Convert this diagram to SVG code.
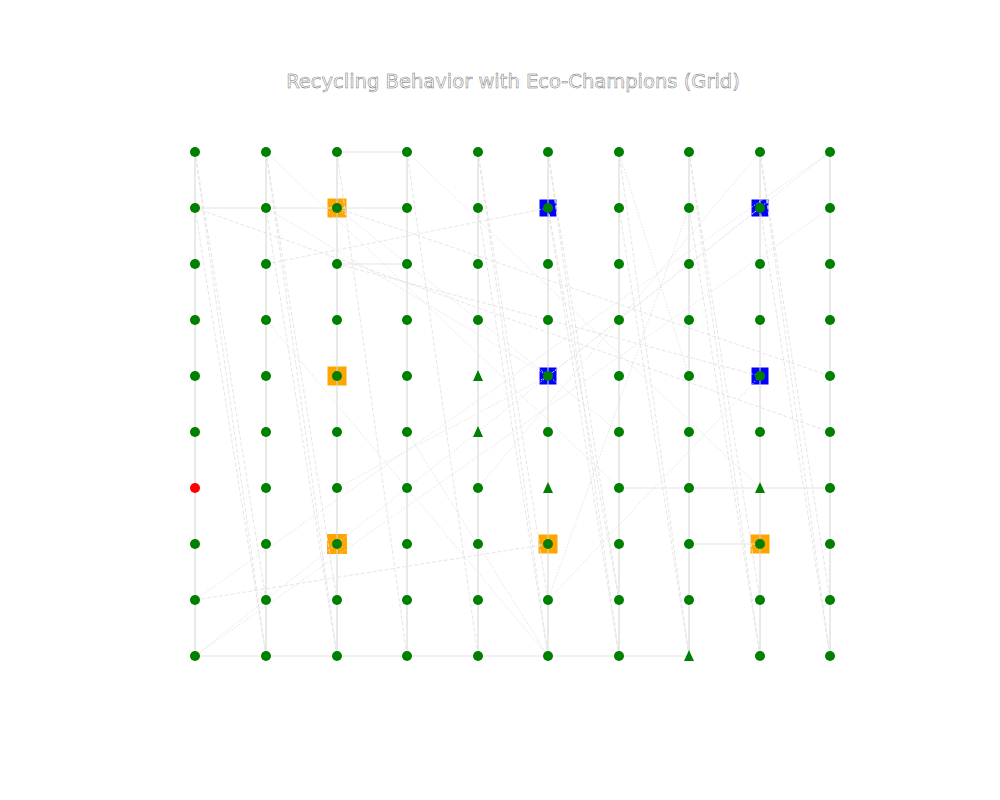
<svg xmlns="http://www.w3.org/2000/svg" width="1000" height="800" viewBox="0 0 1000 800">
<style>
.v{stroke:#d4d4d4;stroke-width:1;fill:none}
.h{stroke:#e4e4e4;stroke-width:1;fill:none}
.d{stroke:#e2e2e2;stroke-width:0.9;stroke-dasharray:4 2;fill:none}
.o{stroke:#e2e2e2;stroke-width:0.9;stroke-dasharray:1.5 1.5;fill:none}
.n{fill:#008000}
.r{fill:#ff0000}
.sq{fill:#ffa500}
.sb{fill:#0000ff}
.t{font-family:"DejaVu Sans",sans-serif;font-size:19.5px;fill:#fff;stroke:#707070;stroke-width:0.5;text-anchor:middle}
</style>
<rect width="1000" height="800" fill="#fff"/>
<text class="t" x="513" y="88">Recycling Behavior with Eco-Champions (Grid)</text>
<g id="highlights">
<rect class="sq" x="327.5" y="198.5" width="19" height="19"/>
<rect class="sq" x="327.5" y="366.5" width="19" height="19"/>
<rect class="sq" x="327" y="534" width="20" height="20"/>
<rect class="sq" x="538.5" y="534.5" width="19" height="19"/>
<rect class="sq" x="750.5" y="534.5" width="19" height="19"/>
<rect class="sb" x="539.5" y="199.5" width="17" height="17"/>
<rect class="sb" x="539.5" y="367.5" width="17" height="17"/>
<rect class="sb" x="751.5" y="199.5" width="17" height="17"/>
<rect class="sb" x="751.5" y="367.5" width="17" height="17"/>
</g>
<g id="connectors">
<line class="v" x1="195" y1="152" x2="195" y2="656"/>
<line class="v" x1="266" y1="152" x2="266" y2="656"/>
<line class="v" x1="337" y1="152" x2="337" y2="656"/>
<line class="v" x1="407" y1="152" x2="407" y2="656"/>
<line class="v" x1="478" y1="152" x2="478" y2="656"/>
<line class="v" x1="548" y1="152" x2="548" y2="656"/>
<line class="v" x1="619" y1="152" x2="619" y2="656"/>
<line class="v" x1="689" y1="152" x2="689" y2="656"/>
<line class="v" x1="760" y1="152" x2="760" y2="656"/>
<line class="v" x1="830" y1="152" x2="830" y2="656"/>
<line class="h" x1="337" y1="152" x2="407" y2="152"/>
<line class="h" x1="195" y1="208" x2="407" y2="208"/>
<line class="h" x1="337" y1="264" x2="407" y2="264"/>
<line class="h" x1="619" y1="488" x2="830" y2="488"/>
<line class="h" x1="689" y1="544" x2="760" y2="544"/>
<line class="h" x1="195" y1="656" x2="689" y2="656"/>
<line class="d" x1="195" y1="152" x2="266" y2="656"/>
<line class="d" x1="195" y1="208" x2="266" y2="656"/>
<line class="d" x1="195" y1="152" x2="266" y2="600"/>
<line class="d" x1="266" y1="152" x2="337" y2="656"/>
<line class="d" x1="266" y1="208" x2="337" y2="656"/>
<line class="d" x1="266" y1="152" x2="337" y2="600"/>
<line class="d" x1="337" y1="152" x2="407" y2="656"/>
<line class="d" x1="407" y1="152" x2="478" y2="656"/>
<line class="d" x1="478" y1="152" x2="548" y2="656"/>
<line class="d" x1="478" y1="208" x2="548" y2="656"/>
<line class="d" x1="478" y1="152" x2="548" y2="600"/>
<line class="d" x1="548" y1="152" x2="619" y2="656"/>
<line class="d" x1="548" y1="208" x2="619" y2="656"/>
<line class="d" x1="548" y1="152" x2="619" y2="600"/>
<line class="d" x1="548" y1="208" x2="619" y2="600"/>
<line class="d" x1="619" y1="152" x2="689" y2="656"/>
<line class="d" x1="619" y1="208" x2="689" y2="656"/>
<line class="d" x1="689" y1="152" x2="760" y2="656"/>
<line class="d" x1="689" y1="208" x2="760" y2="656"/>
<line class="d" x1="689" y1="152" x2="760" y2="600"/>
<line class="d" x1="760" y1="152" x2="830" y2="656"/>
<line class="d" x1="760" y1="208" x2="830" y2="656"/>
<line class="d" x1="760" y1="152" x2="830" y2="600"/>
<line class="d" x1="337" y1="208" x2="830" y2="376"/>
<line class="d" x1="195" y1="208" x2="830" y2="432"/>
<line class="d" x1="266" y1="264" x2="548" y2="208"/>
<line class="d" x1="195" y1="600" x2="548" y2="544"/>
<line class="d" x1="337" y1="264" x2="760" y2="376"/>
<line class="o" x1="266" y1="152" x2="619" y2="488"/>
<line class="o" x1="407" y1="152" x2="760" y2="488"/>
<line class="o" x1="619" y1="152" x2="689" y2="376"/>
<line class="o" x1="266" y1="208" x2="548" y2="376"/>
<line class="o" x1="337" y1="208" x2="619" y2="432"/>
<line class="o" x1="266" y1="320" x2="548" y2="656"/>
<line class="o" x1="407" y1="432" x2="548" y2="656"/>
<line class="o" x1="195" y1="656" x2="760" y2="208"/>
<line class="o" x1="195" y1="656" x2="830" y2="208"/>
<line class="o" x1="195" y1="600" x2="830" y2="152"/>
<line class="o" x1="548" y1="376" x2="830" y2="152"/>
<line class="o" x1="689" y1="208" x2="548" y2="600"/>
<line class="o" x1="760" y1="152" x2="478" y2="488"/>
<line class="o" x1="548" y1="600" x2="760" y2="376"/>
<line class="o" x1="337" y1="488" x2="548" y2="376"/>
</g>
<g id="nodes">
<g id="r0"><circle class="n" cx="195" cy="152" r="5"/><circle class="n" cx="266" cy="152" r="5"/><circle class="n" cx="337" cy="152" r="5"/><circle class="n" cx="407" cy="152" r="5"/><circle class="n" cx="478" cy="152" r="5"/><circle class="n" cx="548" cy="152" r="5"/><circle class="n" cx="619" cy="152" r="5"/><circle class="n" cx="689" cy="152" r="5"/><circle class="n" cx="760" cy="152" r="5"/><circle class="n" cx="830" cy="152" r="5"/></g>
<g id="r1"><circle class="n" cx="195" cy="208" r="5"/><circle class="n" cx="266" cy="208" r="5"/><circle class="n" cx="337" cy="208" r="5"/><circle class="n" cx="407" cy="208" r="5"/><circle class="n" cx="478" cy="208" r="5"/><circle class="n" cx="548" cy="208" r="5"/><circle class="n" cx="619" cy="208" r="5"/><circle class="n" cx="689" cy="208" r="5"/><circle class="n" cx="760" cy="208" r="5"/><circle class="n" cx="830" cy="208" r="5"/></g>
<g id="r2"><circle class="n" cx="195" cy="264" r="5"/><circle class="n" cx="266" cy="264" r="5"/><circle class="n" cx="337" cy="264" r="5"/><circle class="n" cx="407" cy="264" r="5"/><circle class="n" cx="478" cy="264" r="5"/><circle class="n" cx="548" cy="264" r="5"/><circle class="n" cx="619" cy="264" r="5"/><circle class="n" cx="689" cy="264" r="5"/><circle class="n" cx="760" cy="264" r="5"/><circle class="n" cx="830" cy="264" r="5"/></g>
<g id="r3"><circle class="n" cx="195" cy="320" r="5"/><circle class="n" cx="266" cy="320" r="5"/><circle class="n" cx="337" cy="320" r="5"/><circle class="n" cx="407" cy="320" r="5"/><circle class="n" cx="478" cy="320" r="5"/><circle class="n" cx="548" cy="320" r="5"/><circle class="n" cx="619" cy="320" r="5"/><circle class="n" cx="689" cy="320" r="5"/><circle class="n" cx="760" cy="320" r="5"/><circle class="n" cx="830" cy="320" r="5"/></g>
<g id="r4"><circle class="n" cx="195" cy="376" r="5"/><circle class="n" cx="266" cy="376" r="5"/><circle class="n" cx="337" cy="376" r="5"/><circle class="n" cx="407" cy="376" r="5"/><polygon class="n" points="478,370 483,381 473,381"/><circle class="n" cx="548" cy="376" r="5"/><circle class="n" cx="619" cy="376" r="5"/><circle class="n" cx="689" cy="376" r="5"/><circle class="n" cx="760" cy="376" r="5"/><circle class="n" cx="830" cy="376" r="5"/></g>
<g id="r5"><circle class="n" cx="195" cy="432" r="5"/><circle class="n" cx="266" cy="432" r="5"/><circle class="n" cx="337" cy="432" r="5"/><circle class="n" cx="407" cy="432" r="5"/><polygon class="n" points="478,426 483,437 473,437"/><circle class="n" cx="548" cy="432" r="5"/><circle class="n" cx="619" cy="432" r="5"/><circle class="n" cx="689" cy="432" r="5"/><circle class="n" cx="760" cy="432" r="5"/><circle class="n" cx="830" cy="432" r="5"/></g>
<g id="r6"><circle class="r" cx="195" cy="488" r="5"/><circle class="n" cx="266" cy="488" r="5"/><circle class="n" cx="337" cy="488" r="5"/><circle class="n" cx="407" cy="488" r="5"/><circle class="n" cx="478" cy="488" r="5"/><polygon class="n" points="548,482 553,493 543,493"/><circle class="n" cx="619" cy="488" r="5"/><circle class="n" cx="689" cy="488" r="5"/><polygon class="n" points="760,482 765,493 755,493"/><circle class="n" cx="830" cy="488" r="5"/></g>
<g id="r7"><circle class="n" cx="195" cy="544" r="5"/><circle class="n" cx="266" cy="544" r="5"/><circle class="n" cx="337" cy="544" r="5"/><circle class="n" cx="407" cy="544" r="5"/><circle class="n" cx="478" cy="544" r="5"/><circle class="n" cx="548" cy="544" r="5"/><circle class="n" cx="619" cy="544" r="5"/><circle class="n" cx="689" cy="544" r="5"/><circle class="n" cx="760" cy="544" r="5"/><circle class="n" cx="830" cy="544" r="5"/></g>
<g id="r8"><circle class="n" cx="195" cy="600" r="5"/><circle class="n" cx="266" cy="600" r="5"/><circle class="n" cx="337" cy="600" r="5"/><circle class="n" cx="407" cy="600" r="5"/><circle class="n" cx="478" cy="600" r="5"/><circle class="n" cx="548" cy="600" r="5"/><circle class="n" cx="619" cy="600" r="5"/><circle class="n" cx="689" cy="600" r="5"/><circle class="n" cx="760" cy="600" r="5"/><circle class="n" cx="830" cy="600" r="5"/></g>
<g id="r9"><circle class="n" cx="195" cy="656" r="5"/><circle class="n" cx="266" cy="656" r="5"/><circle class="n" cx="337" cy="656" r="5"/><circle class="n" cx="407" cy="656" r="5"/><circle class="n" cx="478" cy="656" r="5"/><circle class="n" cx="548" cy="656" r="5"/><circle class="n" cx="619" cy="656" r="5"/><polygon class="n" points="689,650 694,661 684,661"/><circle class="n" cx="760" cy="656" r="5"/><circle class="n" cx="830" cy="656" r="5"/></g>
</g>
</svg>
